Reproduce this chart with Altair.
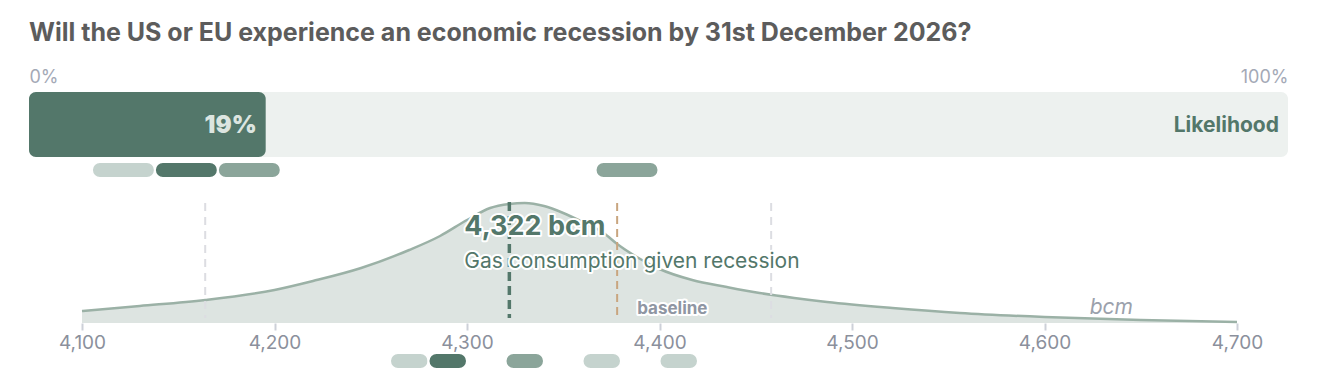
import altair as alt
import pandas as pd

TITLE = "Will the US or EU experience an economic recession by 31st December 2026?"

# top: likelihood bar (percent)
pct_ticks = [0, 100]
likelihood = 18.8
likelihood_label = "Likelihood"
top_pill_start = [5, 10, 15, 45]
top_pill_end = [10, 15, 20, 50]
top_pill_shade = ["light", "dark", "mid", "mid"]

# bottom: conditional distribution of gas consumption (bcm)
bcm_ticks = [4100, 4200, 4300, 4400, 4500, 4600, 4700]
curve_bcm = [4100, 4130, 4164, 4200, 4220, 4245, 4270, 4286, 4300, 4312, 4322,
             4330, 4340, 4350, 4360, 4371, 4378, 4390, 4400, 4417, 4435, 4452,
             4470, 4487, 4521, 4556, 4600, 4650, 4700]
curve_density = [12, 17, 23, 33, 42, 55, 73, 87, 103, 115, 119,
                 120, 117, 110, 101, 90, 79, 64, 54, 43, 36, 30,
                 25, 21, 15, 10, 6, 3, 1]
median_bcm = 4322
baseline_bcm = 4378
interval_bcm = [4164, 4458]
bottom_pill_start = [4260, 4280, 4320, 4360, 4400]
bottom_pill_end = [4280, 4300, 4340, 4380, 4420]
bottom_pill_shade = ["light", "dark", "mid", "light", "light"]

GREEN = "#53776a"
FONT = "Inter"
W, H = 1259, 231

shade_scale = alt.Scale(domain=["light", "dark", "mid"],
                        range=["#c5d3ce", "#53776a", "#8ba59a"])

# ---------- top panel ----------
pct_scale = alt.Scale(domain=[0, 100], zero=False, nice=False)
pct_axis = alt.Axis(orient="top", values=pct_ticks, labelExpr="datum.value + '%'",
                    labelFlush=True, domain=False, ticks=False, grid=False,
                    labelPadding=6, labelColor="#a4a9b6", labelFontSize=18,
                    labelFont=FONT, title=None)

def px(field):
    return alt.X(f"{field}:Q", scale=pct_scale, axis=pct_axis)

bar_df = pd.DataFrame({"start": [pct_ticks[0]], "end": [pct_ticks[1]]})
fill_df = pd.DataFrame({"start": [0], "end": [likelihood],
                        "label": [f"{round(likelihood):d}%"]})
lik_df = pd.DataFrame({"start": [pct_ticks[1]], "label": [likelihood_label]})
tpill_df = pd.DataFrame({"start": top_pill_start, "end": top_pill_end,
                         "shade": top_pill_shade})

bg = alt.Chart(bar_df).mark_bar(cornerRadius=7, color="#edf1ef").encode(
    x=px("start"), x2="end", y=alt.value(0), y2=alt.value(65))
fill = alt.Chart(fill_df).mark_bar(cornerRadius=7, color=GREEN).encode(
    x=px("start"), x2="end", y=alt.value(0), y2=alt.value(65))
fill_txt = alt.Chart(fill_df).mark_text(
    align="right", baseline="middle", dx=-9, font=FONT, fontSize=24,
    fontWeight=900, color="#dce5e0").encode(
    x=px("end"), y=alt.value(34), text="label:N")
lik_txt = alt.Chart(lik_df).mark_text(
    align="right", baseline="middle", dx=-9, font=FONT, fontSize=21,
    fontWeight="bold", color=GREEN).encode(
    x=px("start"), y=alt.value(34), text="label:N")
tpills = alt.Chart(tpill_df).mark_bar(cornerRadius=8, stroke="white", strokeWidth=2).encode(
    x=px("start"), x2="end", y=alt.value(70), y2=alt.value(86),
    color=alt.Color("shade:N", scale=shade_scale, legend=None))

top = alt.layer(bg, fill, fill_txt, lik_txt, tpills)

# ---------- bottom panel ----------
bcm_scale = alt.Scale(domain=[4100, 4700], range=[53, 1208], zero=False, nice=False)
bcm_axis = alt.Axis(orient="bottom", values=bcm_ticks,
                    labelExpr="format(datum.value, ',')", labelFlush=False,
                    domain=False, grid=False, ticks=True, tickColor="#cdd0d8",
                    tickSize=7, tickWidth=2, labelColor="#8b909c", labelFontSize=19,
                    labelFont=FONT, labelPadding=3, title=None)

def bx(field):
    return alt.X(f"{field}:Q", scale=bcm_scale, axis=bcm_axis)

dens_y = alt.Y("density:Q", scale=alt.Scale(domain=[0, H], nice=False), axis=None)

curve_df = pd.DataFrame({"bcm": curve_bcm, "density": curve_density})
area = alt.Chart(curve_df).mark_area(color="#dde4e1", interpolate="monotone").encode(
    x=bx("bcm"), y=dens_y)
line = alt.Chart(curve_df).mark_line(color="#9bb1a6", strokeWidth=2.5,
                                     interpolate="monotone").encode(
    x=bx("bcm"), y=dens_y)

iv_df = pd.DataFrame({"bcm": interval_bcm})
med_df = pd.DataFrame({"bcm": [median_bcm],
                       "big": [f"{median_bcm:,} bcm"],
                       "small": ["Gas consumption given recession"]})
base_df = pd.DataFrame({"bcm": [baseline_bcm], "label": ["baseline"]})
unit_df = pd.DataFrame({"bcm": [bcm_ticks[-1]], "label": ["bcm"]})
bpill_df = pd.DataFrame({"bcm": bottom_pill_start, "bcm_end": bottom_pill_end,
                         "shade": bottom_pill_shade})

iv_rules = alt.Chart(iv_df).mark_rule(color="#dcdde2", strokeWidth=2,
                                      strokeDash=[8, 6]).encode(
    x=bx("bcm"), y=alt.value(111), y2=alt.value(226))
base_rule = alt.Chart(base_df).mark_rule(color="#c9a57f", strokeWidth=2,
                                         strokeDash=[8, 5]).encode(
    x=bx("bcm"), y=alt.value(111), y2=alt.value(226))
med_rule = alt.Chart(med_df).mark_rule(color=GREEN, strokeWidth=3.5,
                                       strokeDash=[9, 5]).encode(
    x=bx("bcm"), y=alt.value(110), y2=alt.value(226))

def halo_text(df, field, y, dx, size, weight, color, style="normal", align="left"):
    kw = dict(align=align, baseline="middle", dx=dx, font=FONT, fontSize=size,
              fontWeight=weight, fontStyle=style)
    back = alt.Chart(df).mark_text(stroke="white", strokeWidth=4, strokeJoin="round",
                                   color="white", **kw).encode(
        x=bx("bcm"), y=alt.value(y), text=f"{field}:N")
    front = alt.Chart(df).mark_text(color=color, **kw).encode(
        x=bx("bcm"), y=alt.value(y), text=f"{field}:N")
    return [back, front]

big = halo_text(med_df, "big", 135, -45, 27, "bold", GREEN)
small = halo_text(med_df, "small", 170, -45, 21, "normal", GREEN)
base_txt = halo_text(base_df, "label", 217, 20, 17, "bold", "#8f96a3")
unit_txt = alt.Chart(unit_df).mark_text(
    align="right", baseline="middle", dx=-104, font=FONT, fontSize=21,
    fontStyle="italic", color="#9ba1ac").encode(
    x=bx("bcm"), y=alt.value(216), text="label:N")

bpills = alt.Chart(bpill_df).mark_bar(cornerRadius=8, stroke="white", strokeWidth=2).encode(
    x=bx("bcm"), x2="bcm_end", y=alt.value(261), y2=alt.value(277),
    color=alt.Color("shade:N", scale=shade_scale, legend=None))

bottom = alt.layer(area, line, iv_rules, med_rule, base_rule, *big, *small,
                   *base_txt, unit_txt, bpills)

chart = alt.layer(top, bottom).resolve_scale(
    x="independent", y="independent"
).properties(
    width=W, height=H,
    background="white",
    title=alt.Title(TITLE, anchor="start", font=FONT, fontSize=25,
                    fontWeight="bold", color="#5c5c5c", offset=22),
    autosize=alt.AutoSizeParams(type="none"),
    padding={"left": 21, "top": 84, "right": 27, "bottom": 50},
).configure_view(stroke="transparent", strokeWidth=0)

chart.save("out.html", embed_options={"renderer": "svg", "actions": False})
